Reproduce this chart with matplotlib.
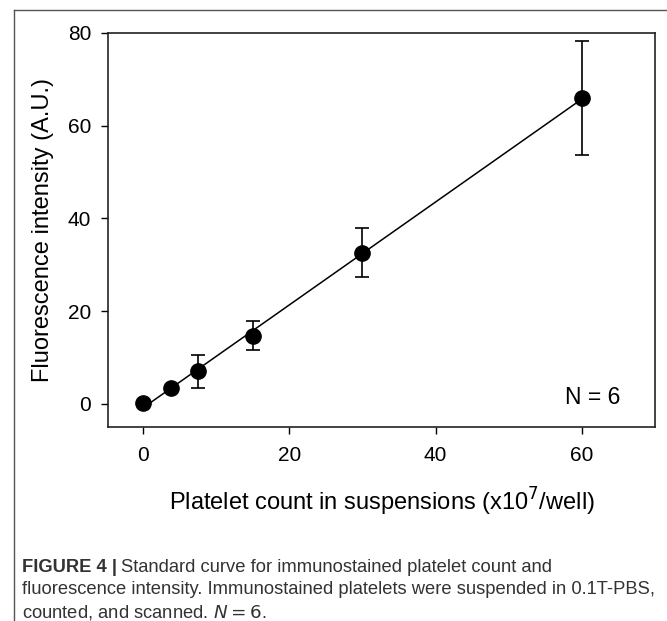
import numpy as np
import matplotlib
matplotlib.use("Agg")
import matplotlib.pyplot as plt
from matplotlib.lines import Line2D

plt.rcParams['font.family'] = ['Liberation Sans', 'DejaVu Sans']

# platelet count (x10^7/well) and fluorescence (A.U.)
count = [0, 3.75, 7.5, 15, 30, 60]
fluor = [0.2, 3.4, 7.0, 14.7, 32.6, 66.0]
err = [0.0, 0.0, 3.6, 3.15, 5.3, 12.3]

fig = plt.figure(figsize=(6.67, 6.21), dpi=100)
ax = fig.add_axes([108 / 667, 1 - 427 / 621, (655 - 108) / 667, (427 - 33) / 621])

# linear fit line
k, b = np.polyfit(count, fluor, 1)
xs = np.array([min(count), max(count)])
ax.plot(xs, k * xs + b, color='black', lw=1.1, zorder=1)

ax.errorbar(count, fluor, yerr=err, fmt='o', color='black', ms=11,
            ecolor='black', elinewidth=1.2, capsize=5, capthick=1.2, zorder=3)

ax.set_xlim(-4.8, 70)
ax.set_ylim(-5, 80)
ax.set_xticks([0, 20, 40, 60])
ax.set_yticks([0, 20, 40, 60, 80])
ax.tick_params(direction='out', length=5, width=1, labelsize=15, pad=7)
ax.tick_params(axis='x', pad=9)
for s in ax.spines.values():
    s.set_linewidth(1.2)
    s.set_color('#222222')

ax.set_xlabel(r'Platelet count in suspensions (x10$^7$/well)', fontsize=17, labelpad=15)
ax.set_ylabel('Fluorescence intensity (A.U.)', fontsize=17, labelpad=10)

ax.text(0.936, 0.074, 'N = 6', transform=ax.transAxes, fontsize=16.5,
        ha='right', va='center')

# outer frame (top and left edges)
fig.add_artist(Line2D([14 / 667, 14 / 667], [0, 1 - 10 / 621],
                      transform=fig.transFigure, color='#555555', lw=1))
fig.add_artist(Line2D([14 / 667, 1], [1 - 10 / 621, 1 - 10 / 621],
                      transform=fig.transFigure, color='#555555', lw=1))

cap_color = '#333333'
cap_size = 13.2
t0 = fig.text(22 / 667, 1 - 567 / 621, 'FIGURE 4 |', fontsize=cap_size,
              fontweight='bold', color=cap_color, va='center')
fig.canvas.draw()
bb = t0.get_window_extent().transformed(fig.transFigure.inverted())
fig.text(bb.x1 + 4 / 667, 1 - 567 / 621,
         'Standard curve for immunostained platelet count and',
         fontsize=cap_size, color=cap_color, va='center')
fig.text(22 / 667, 1 - 590 / 621,
         'fluorescence intensity. Immunostained platelets were suspended in 0.1T-PBS,',
         fontsize=cap_size, color=cap_color, va='center')
fig.text(22 / 667, 1 - 613 / 621, r'counted, and scanned. $N = 6$.',
         fontsize=cap_size, color=cap_color, va='center')

fig.savefig('out.png', dpi=100)
